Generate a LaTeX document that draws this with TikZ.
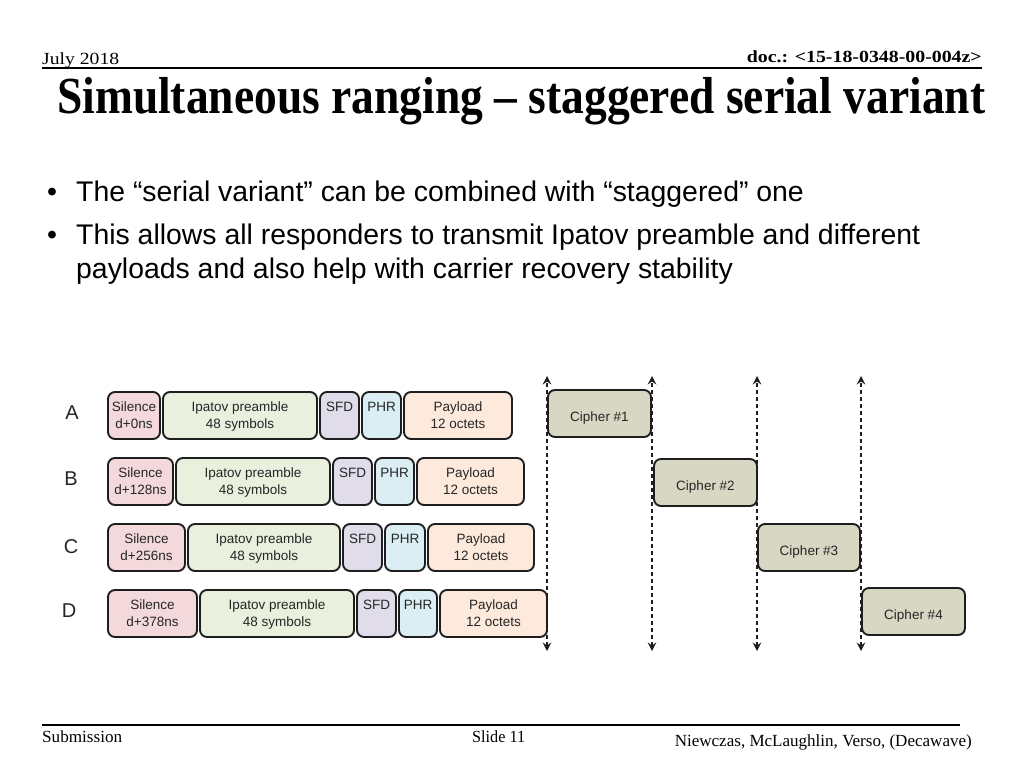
\documentclass[tikz,border=0pt]{standalone}
\usepackage{fontspec}
\usepackage{graphicx}
\setmainfont{Liberation Serif}
\setsansfont{Liberation Sans}
\usetikzlibrary{arrows.meta}
\definecolor{silc}{HTML}{F4D9DC}
\definecolor{ipac}{HTML}{E9F0DE}
\definecolor{sfdc}{HTML}{E0DCEA}
\definecolor{phrc}{HTML}{DAEEF3}
\definecolor{payc}{HTML}{FDEADC}
\definecolor{cipc}{HTML}{D8D7C3}
\definecolor{edgec}{HTML}{1E1E1E}
\definecolor{txtc}{HTML}{262626}
\newcommand{\seg}[7]{%
  \node[segbox, fill=#6, minimum width={#3-#2-2}, minimum height={#5-#4-2}]
    (#1) at ({(#2+#3)/2},{(#4+#5)/2}) {#7};}
\newcommand{\twol}[2]{\raisebox{0pt}[12.6pt][3.9pt]{#1}\\\raisebox{0pt}[12.6pt][3.9pt]{#2}}
\newcommand{\onel}[1]{\raisebox{0pt}[19pt][3pt]{#1}}
\begin{document}
\begin{tikzpicture}[x=1pt,y=-1pt,
  segbox/.style={draw=edgec, line width=1.9pt, rounded corners=7pt, inner sep=0pt,
    align=center, text=txtc, font=\sffamily\fontsize{13.5}{16.5}\selectfont},
  rowlabel/.style={font=\sffamily\fontsize{20}{20}\selectfont, text=txtc},
  timeline/.style={line width=1.1pt, dash pattern=on 4pt off 3pt, edgec,
    {Stealth[length=8.5pt,width=8.5pt,inset=3pt]}-{Stealth[length=8.5pt,width=8.5pt,inset=3pt]}},
  bullettext/.style={anchor=base west, font=\sffamily\fontsize{28.4}{34}\selectfont, inner sep=0pt},
  serifhead/.style={inner sep=0pt}
]
\useasboundingbox[fill=white] (0,0) rectangle (1024,768);

% header
\node[serifhead, anchor=base west] (date) at (42,64)
  {\resizebox{77pt}{\height}{\fontsize{17}{17}\selectfont July 2018}};
\node[serifhead, anchor=base east] (doc) at (982,63)
  {\resizebox{235pt}{\height}{\fontsize{17}{17}\selectfont\bfseries doc.: <15-18-0348-00-004z>}};
\coordinate (hl) at (42,68);
\coordinate (hr) at (982,68);
\draw[line width=1.8pt] (hl) -- (hr);
\node[serifhead, anchor=base west] (title) at (57,113)
  {\resizebox{928pt}{\height}{\fontsize{52}{52}\selectfont\bfseries Simultaneous ranging -- staggered serial variant}};

% bullets
\node[bullettext] (b1) at (47,201) {•};
\node[bullettext] (t1) at (76,201) {The “serial variant” can be combined with “staggered” one};
\node[bullettext] (b2) at (47,244) {•};
\node[bullettext] (t2) at (76,244) {This allows all responders to transmit Ipatov preamble and different};
\node[bullettext] (t3) at (76,278) {payloads and also help with carrier recovery stability};

% row labels
\node[rowlabel] (la) at (72,413) {A};
\node[rowlabel] (lb) at (71,479) {B};
\node[rowlabel] (lc) at (71,547) {C};
\node[rowlabel] (ld) at (69,611) {D};

% timelines
\foreach \i/\x in {1/547,2/652,3/757,4/861}{
  \coordinate (top\i) at (\x,376);
  \coordinate (bot\i) at (\x,651);
  \draw[timeline] (bot\i) -- (top\i);
}

% row A
\seg{as}{107}{161}{391}{440}{silc}{\twol{Silence}{d+0ns}}
\seg{ai}{162}{318}{391}{440}{ipac}{\twol{Ipatov preamble}{48 symbols}}
\seg{af}{319}{360}{391}{440}{sfdc}{\twol{SFD}{}}
\seg{ap}{361}{402}{391}{440}{phrc}{\twol{PHR}{}}
\seg{ay}{403}{513}{391}{440}{payc}{\twol{Payload}{12 octets}}
% row B
\seg{bs}{107}{174}{457}{506}{silc}{\twol{Silence}{d+128ns}}
\seg{bi}{175}{331}{457}{506}{ipac}{\twol{Ipatov preamble}{48 symbols}}
\seg{bf}{332}{373}{457}{506}{sfdc}{\twol{SFD}{}}
\seg{bp}{374}{415}{457}{506}{phrc}{\twol{PHR}{}}
\seg{by}{416}{525}{457}{506}{payc}{\twol{Payload}{12 octets}}
% row C
\seg{cs}{107}{186}{523}{572}{silc}{\twol{Silence}{d+256ns}}
\seg{ci}{187}{341}{523}{572}{ipac}{\twol{Ipatov preamble}{48 symbols}}
\seg{cf}{342}{383}{523}{572}{sfdc}{\twol{SFD}{}}
\seg{cp}{384}{426}{523}{572}{phrc}{\twol{PHR}{}}
\seg{cy}{427}{535}{523}{572}{payc}{\twol{Payload}{12 octets}}
% row D
\seg{ds}{107}{198}{589}{638}{silc}{\twol{Silence}{d+378ns}}
\seg{di}{199}{355}{589}{638}{ipac}{\twol{Ipatov preamble}{48 symbols}}
\seg{df}{356}{397}{589}{638}{sfdc}{\twol{SFD}{}}
\seg{dp}{398}{438}{589}{638}{phrc}{\twol{PHR}{}}
\seg{dy}{439}{548}{589}{638}{payc}{\twol{Payload}{12 octets}}

% ciphers
\seg{c1}{547}{652}{389}{438}{cipc}{\onel{Cipher \#1}}
\seg{c2}{653}{758}{458}{507}{cipc}{\onel{Cipher \#2}}
\seg{c3}{757}{861}{523}{572}{cipc}{\onel{Cipher \#3}}
\seg{c4}{861}{966}{587}{636}{cipc}{\onel{Cipher \#4}}

% footer
\coordinate (fl) at (42,725);
\coordinate (fr) at (960,725);
\draw[line width=1.8pt] (fl) -- (fr);
\node[serifhead, anchor=base west] (sub) at (42,742)
  {\resizebox{80pt}{\height}{\fontsize{17}{17}\selectfont Submission}};
\node[serifhead, anchor=base west] (slide) at (472,742)
  {\resizebox{53pt}{\height}{\fontsize{17}{17}\selectfont Slide 11}};
\node[serifhead, anchor=base east] (auth) at (972,746)
  {\resizebox{297pt}{\height}{\fontsize{17}{17}\selectfont Niewczas, McLaughlin, Verso, (Decawave)}};
\end{tikzpicture}
\end{document}
